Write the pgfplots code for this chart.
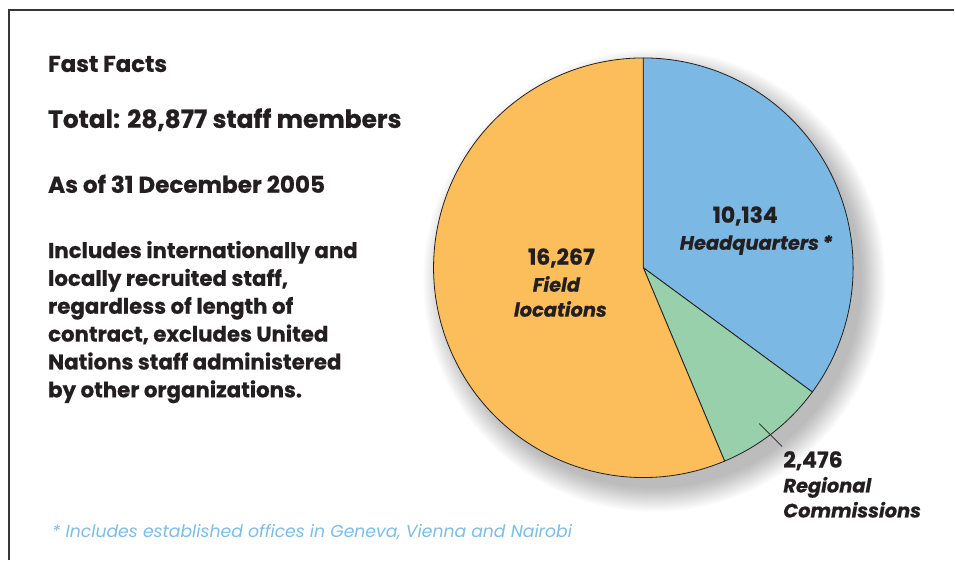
\documentclass[border=0pt]{standalone}
\usepackage{pgfplots}
\pgfplotsset{compat=1.18}
\usepackage{pgfplotstable}
\usepackage{fontspec}
\setmainfont{Poppins}[BoldFeatures={FakeBold=0.6}, BoldItalicFeatures={FakeBold=0.6}]

\definecolor{hqblue}{HTML}{7BB8E3}
\definecolor{rcgreen}{HTML}{99D0AC}
\definecolor{fieldorange}{HTML}{FBBE5A}
\definecolor{ink}{HTML}{231F20}
\definecolor{noteblue}{HTML}{7DBDE8}

% staff by location, 31 Dec 2005
\pgfplotstableread{
part value
hq 10134
rc 2476
field 16267
}\staff

\begin{document}
\begin{tikzpicture}
% values in thousands, to stay inside TeX's dimension range
\pgfplotstablegetelem{0}{value}\of\staff \pgfmathsetmacro\vhq{\pgfplotsretval/1000}
\pgfplotstablegetelem{1}{value}\of\staff \pgfmathsetmacro\vrc{\pgfplotsretval/1000}
\pgfplotstablegetelem{2}{value}\of\staff \pgfmathsetmacro\vfi{\pgfplotsretval/1000}
\pgfmathsetmacro\tot{\vhq+\vrc+\vfi}
% angles, clockwise from the top
\pgfmathsetmacro\aA{90}
\pgfmathsetmacro\aB{90-360*\vhq/\tot}
\pgfmathsetmacro\aC{\aB-360*\vrc/\tot}
\pgfmathsetmacro\aD{-270}
\begin{axis}[
  x=1bp, y=1bp, y dir=reverse,
  xmin=0, xmax=955, ymin=0, ymax=561,
  hide axis, clip=false, scale only axis,
]
\fill[white] (axis cs:0,0) rectangle (axis cs:955,561);
% frame
\draw[ink!90, line width=2bp] (axis cs:9,561) -- (axis cs:9,10) -- (axis cs:955,10);
% soft shadow, down and to the right
\pgfplotsinvokeforeach{1,...,14}{
  \fill[black, opacity=0.018] (axis cs:655,281) circle[radius={(206+1.8*#1)*1bp}];
}
% slices
\filldraw[fill=hqblue, draw=ink, line width=0.8bp]
  (axis cs:644,268) -- ++(\aA:210bp) arc[start angle=\aA, end angle=\aB, radius=210bp] -- cycle;
\filldraw[fill=rcgreen, draw=ink, line width=0.8bp]
  (axis cs:644,268) -- ++(\aB:210bp) arc[start angle=\aB, end angle=\aC, radius=210bp] -- cycle;
\filldraw[fill=fieldorange, draw=ink, line width=0.8bp]
  (axis cs:644,268) -- ++(\aC:210bp) arc[start angle=\aC, end angle=\aD, radius=210bp] -- cycle;
\draw[ink, line width=0.8bp] (axis cs:760,424) -- (axis cs:783,447);

% slice labels
\begin{scope}[every node/.style={text=ink, font=\bfseries\fontsize{19.5}{24}\selectfont, inner sep=0pt}]
\node[anchor=base, font=\bfseries\fontsize{22}{24}\selectfont] at (axis cs:746,223) {10,134};
\node[anchor=base] at (axis cs:757,250) {\itshape Headquarters\,*};
\node[anchor=base, font=\bfseries\fontsize{22}{24}\selectfont] at (axis cs:562,265) {16,267};
\node[anchor=base] at (axis cs:557,292) {\itshape Field};
\node[anchor=base] at (axis cs:561,317) {\itshape locations};
\node[anchor=base west, font=\bfseries\fontsize{22}{24}\selectfont] at (axis cs:784,468) {2,476};
\node[anchor=base west] at (axis cs:784,493) {\itshape Regional};
\node[anchor=base west] at (axis cs:784,518) {\itshape Commissions};
\end{scope}

% fast facts
\begin{scope}[every node/.style={text=ink, anchor=base west, inner sep=0pt}]
\node[font=\bfseries\fontsize{23}{26}\selectfont] at (axis cs:48,72) {Fast Facts};
\node[font=\bfseries\fontsize{25}{30}\selectfont] at (axis cs:48,128) {Total: 28,877 staff members};
\node[font=\bfseries\fontsize{23.2}{25}\selectfont] at (axis cs:48,193) {As of 31 December 2005};
\node[font=\bfseries\fontsize{21.4}{28}\selectfont, align=left, anchor=north west] at (axis cs:48,241) {Includes internationally and\\
locally recruited staff,\\
regardless of length of\\
contract, excludes United\\
Nations staff administered\\
by other organizations.};
\end{scope}
\node[text=noteblue, anchor=base west, inner sep=0pt, font=\itshape\fontsize{17.3}{22}\selectfont]
  at (axis cs:52,538) {* Includes established offices in Geneva, Vienna and Nairobi};
\end{axis}
\end{tikzpicture}
\end{document}
